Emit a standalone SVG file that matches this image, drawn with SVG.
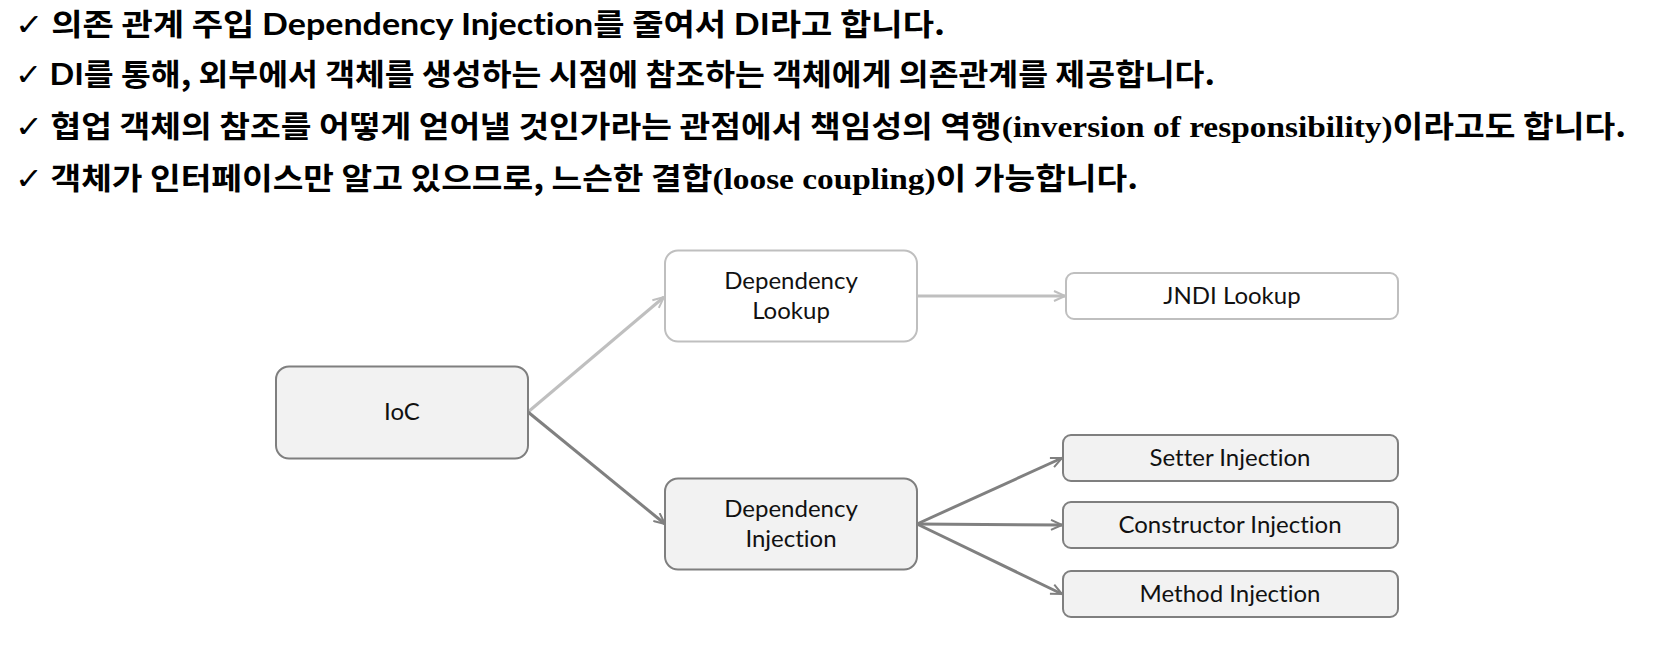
<svg xmlns="http://www.w3.org/2000/svg" width="1669" height="659" viewBox="0 0 1669 659">
<defs>
<style>
text{font-variant-ligatures:none}
.hdr{font-family:"Noto Sans CJK KR","Noto Sans",sans-serif;font-weight:bold;font-size:30px;fill:#000}
.lat{font-family:"Lato","Noto Sans",sans-serif;font-weight:bold}
.ser{font-family:"Liberation Serif",serif;font-weight:bold}
.chk{font-family:"DejaVu Sans",sans-serif;font-weight:normal}
.lbl{font-family:"Lato","Noto Sans",sans-serif;font-size:24px;fill:#111;text-anchor:middle}
.dark{fill:#f2f2f2;stroke:#7f7f7f;stroke-width:2}
.light{fill:#ffffff;stroke:#bfbfbf;stroke-width:2}
.cl{stroke:#bfbfbf;stroke-width:3;fill:none}
.cd{stroke:#808080;stroke-width:3;fill:none}
</style>
<marker id="ahL" markerUnits="userSpaceOnUse" markerWidth="14" markerHeight="12" refX="12" refY="6" orient="auto" viewBox="0 0 14 12">
<path d="M1,1 L12,6 L1,11" fill="none" stroke="#bfbfbf" stroke-width="2"/>
</marker>
<marker id="ahD" markerUnits="userSpaceOnUse" markerWidth="14" markerHeight="12" refX="12" refY="6" orient="auto" viewBox="0 0 14 12">
<path d="M1,1 L12,6 L1,11" fill="none" stroke="#808080" stroke-width="2"/>
</marker>
</defs>
<rect width="1669" height="659" fill="#ffffff"/>

<g id="header">
<text class="hdr" x="15" y="35" textLength="930" lengthAdjust="spacingAndGlyphs"><tspan class="chk">✓</tspan> 의존 관계 주입 <tspan class="lat">Dependency Injection</tspan>를 줄여서 <tspan class="lat">DI</tspan>라고 합니다.</text>
<text class="hdr" x="15" y="85" textLength="1200" lengthAdjust="spacingAndGlyphs"><tspan class="chk">✓</tspan> <tspan class="lat">DI</tspan>를 통해, 외부에서 객체를 생성하는 시점에 참조하는 객체에게 의존관계를 제공합니다.</text>
<text class="hdr" x="15" y="137" textLength="1611" lengthAdjust="spacingAndGlyphs"><tspan class="chk">✓</tspan> 협업 객체의 참조를 어떻게 얻어낼 것인가라는 관점에서 책임성의 역행<tspan class="ser">(inversion of responsibility)</tspan>이라고도 합니다.</text>
<text class="hdr" x="15" y="189" textLength="1123" lengthAdjust="spacingAndGlyphs"><tspan class="chk">✓</tspan> 객체가 인터페이스만 알고 있으므로, 느슨한 결합<tspan class="ser">(loose coupling)</tspan>이 가능합니다.</text>
</g>

<g id="connectors">
<line class="cl" x1="528" y1="412" x2="664" y2="297" marker-end="url(#ahL)"/>
<line class="cd" x1="528" y1="412" x2="665" y2="524" marker-end="url(#ahD)"/>
<line class="cl" x1="917" y1="296" x2="1065" y2="296" marker-end="url(#ahL)"/>
<line class="cd" x1="917" y1="524" x2="1062" y2="458" marker-end="url(#ahD)"/>
<line class="cd" x1="917" y1="524" x2="1062" y2="525" marker-end="url(#ahD)"/>
<line class="cd" x1="917" y1="524" x2="1062" y2="594" marker-end="url(#ahD)"/>
</g>

<g id="ioc">
<rect class="dark" x="276" y="366.5" width="252" height="92" rx="13"/>
<text class="lbl" x="402" y="420">IoC</text>
</g>
<g id="dependency-lookup">
<rect class="light" x="665" y="250.5" width="252" height="91" rx="13"/>
<text class="lbl" x="791" y="289">Dependency</text>
<text class="lbl" x="791" y="319">Lookup</text>
</g>
<g id="dependency-injection">
<rect class="dark" x="665" y="478.5" width="252" height="91" rx="13"/>
<text class="lbl" x="791" y="517">Dependency</text>
<text class="lbl" x="791" y="547">Injection</text>
</g>
<g id="jndi-lookup">
<rect class="light" x="1066" y="273" width="332" height="46" rx="8"/>
<text class="lbl" x="1232" y="304">JNDI Lookup</text>
</g>
<g id="setter-injection">
<rect class="dark" x="1063" y="435" width="335" height="46" rx="8"/>
<text class="lbl" x="1230" y="466">Setter Injection</text>
</g>
<g id="constructor-injection">
<rect class="dark" x="1063" y="502" width="335" height="46" rx="8"/>
<text class="lbl" x="1230" y="533">Constructor Injection</text>
</g>
<g id="method-injection">
<rect class="dark" x="1063" y="571" width="335" height="46" rx="8"/>
<text class="lbl" x="1230" y="602">Method Injection</text>
</g>
</svg>
